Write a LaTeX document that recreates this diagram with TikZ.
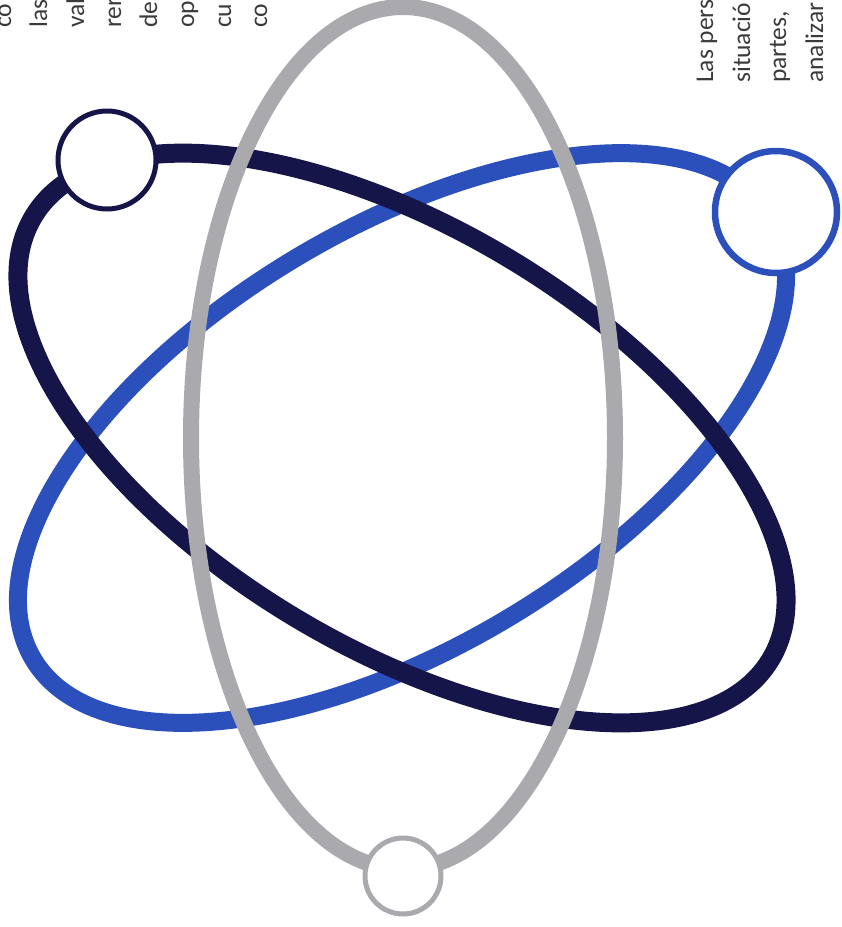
\documentclass[tikz,border=0pt]{standalone}
\usepackage{fontspec}
\setmainfont{Carlito}
\definecolor{navy}{HTML}{15154A}
\definecolor{royal}{HTML}{2B4FBB}
\definecolor{silver}{HTML}{A9A9AE}
\definecolor{txtc}{HTML}{3A3A3A}
\tikzset{
  orbit/.style={line width=#1},
  ring/.style={circle, fill=white, inner sep=0pt},
  vtxt/.style={inner sep=0pt, anchor=base west, rotate=90, text=txtc,
    font=\fontsize{25.5}{30}\selectfont}
}
\begin{document}
\begin{tikzpicture}[x=1pt,y=1pt]
\useasboundingbox (0,0) rectangle (842,-927);
\coordinate (c) at (402,-438);
\coordinate (g) at (403,-438);
% blue orbit
\draw[royal, orbit=18pt, rotate around={31:(c)}] (c) ellipse [x radius=430pt, y radius=209pt];
% navy orbit
\draw[navy, orbit=19pt, rotate around={-31:(c)}] (c) ellipse [x radius=430pt, y radius=209pt];
% gray orbit
\draw[silver, orbit=16pt] (g) ellipse [x radius=212pt, y radius=431pt];
% rings
\node[ring, draw=navy, line width=5pt, minimum size=98pt] (dc) at (107,-160) {};
\node[ring, draw=royal, line width=6.5pt, minimum size=122pt] (bc) at (776,-212) {};
\node[ring, draw=silver, line width=5pt, minimum size=76pt] (gc) at (403,-876) {};
% left text fragments
\node[vtxt] (l1) at (11,-28) {co};
\node[vtxt] (l2) at (47,-28) {las};
\node[vtxt] (l3) at (84,-28) {val};
\node[vtxt] (l4) at (121,-28) {rer};
\node[vtxt] (l5) at (157,-28) {de};
\node[vtxt] (l6) at (194,-28) {op};
\node[vtxt] (l7) at (231,-28) {cu};
\node[vtxt] (l8) at (267,-28) {co};
% right text fragments
\node[vtxt] (r1) at (713,-83) {Las pers};
\node[vtxt] (r2) at (750,-83) {situació};
\node[vtxt] (r3) at (786,-83) {partes,};
\node[vtxt] (r4) at (823,-83) {analizar};
\end{tikzpicture}
\end{document}
